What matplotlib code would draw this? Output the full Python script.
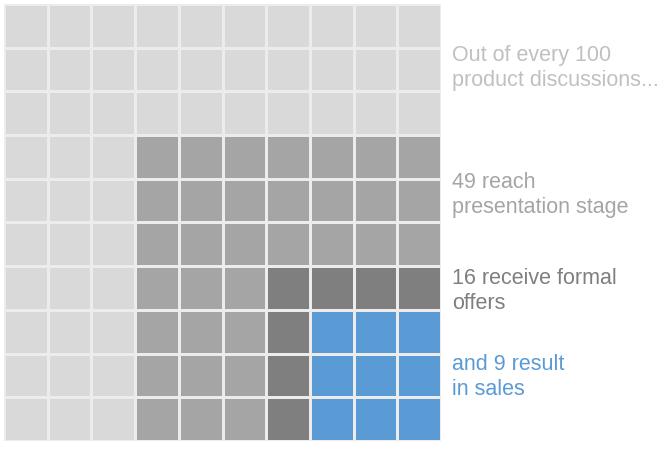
"""
Waffle chart: product discussion funnel
"""
import matplotlib.pyplot as pp
from matplotlib.colors import ListedColormap
import numpy as np

counts = [100, 49, 16, 9]
labels = ["Out of every 100\nproduct discussions...",
          "49 reach\npresentation stage",
          "16 receive formal\noffers",
          "and 9 result\nin sales"]
cell_colors = ["#d9d9d9", "#a5a5a5", "#7f7f7f", "#5b9bd5"]
text_colors = ["#c0c0c0", "#a5a5a5", "#7f7f7f", "#5b9bd5"]
label_y = [68, 195, 291, 377]  # pixel rows of label centres

pp.rcParams['font.family'] = ['Liberation Sans', 'DejaVu Sans']

n = 10
sides = [int(round(np.sqrt(v))) for v in counts]
grid = np.zeros((n, n))
# nested squares anchored at bottom-right corner
for level, s in enumerate(sides):
    for r in range(n):
        for col in range(n):
            if col >= n - s and r < s:
                grid[r, col] = level

W, H = 668, 453
fig = pp.figure(figsize=(W / 100, H / 100), dpi=100)
ax = fig.add_axes([4 / W, 12 / H, 437 / W, 437 / H])
ax.pcolormesh(np.arange(n + 1), np.arange(n + 1), grid,
              cmap=ListedColormap(cell_colors), vmin=-0.5, vmax=3.5,
              edgecolors="#ececec", linewidth=1.0)
ax.set_xlim(0, n)
ax.set_ylim(0, n)
ax.set_axis_off()

for lab, col, y in zip(labels, text_colors, label_y):
    fig.text(452 / W, 1 - y / H, lab, color=col, fontsize=15.5,
             ha="left", va="center", linespacing=1.25)

pp.savefig("out.png", dpi=100)
